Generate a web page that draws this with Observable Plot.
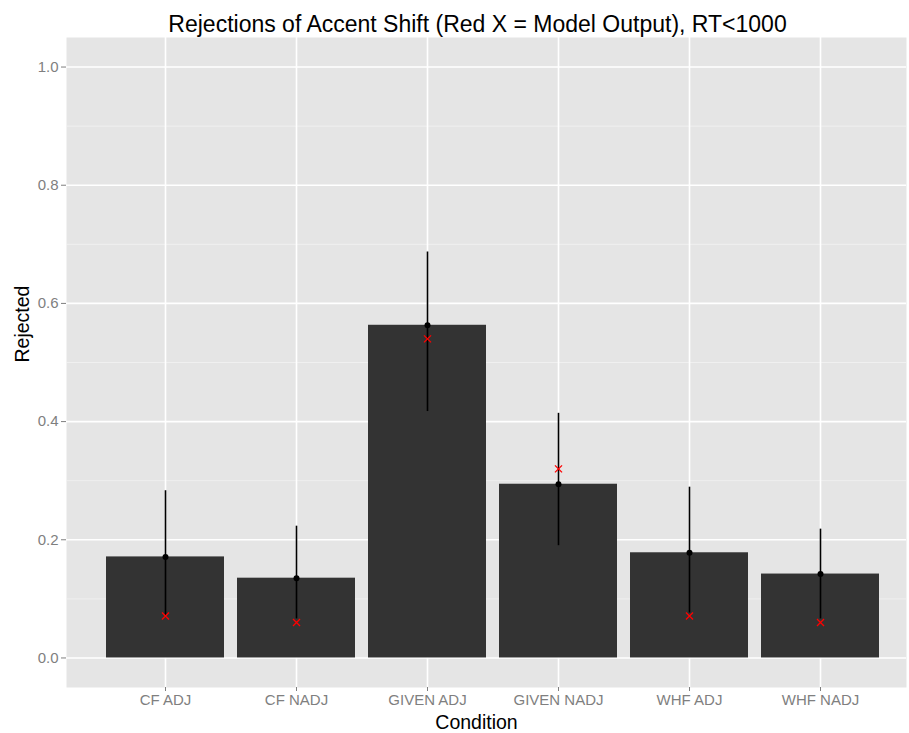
<!DOCTYPE html>
<html>
<head>
<meta charset="utf-8">
<script src="https://cdn.jsdelivr.net/npm/d3@7"></script>
<script src="https://cdn.jsdelivr.net/npm/@observablehq/plot@0.6"></script>
<style>
  html, body { margin: 0; padding: 0; background: #ffffff; }
  #chart svg { display: block; font-family: "Liberation Sans", Arial, Helvetica, sans-serif; }
</style>
</head>
<body>
<div id="chart"></div>
<script>
const conditions = ["CF ADJ", "CF NADJ", "GIVEN ADJ", "GIVEN NADJ", "WHF ADJ", "WHF NADJ"];
const rejected   = [0.171, 0.135, 0.563, 0.294, 0.178, 0.142];
const ciLow      = [0.072, 0.066, 0.417, 0.190, 0.076, 0.066];
const ciHigh     = [0.283, 0.223, 0.687, 0.414, 0.289, 0.218];
const modelOut   = [0.071, 0.060, 0.540, 0.320, 0.071, 0.060];
const yTicks     = [0, 0.2, 0.4, 0.6, 0.8, 1.0];
const yMinor     = [0.1, 0.3, 0.5, 0.7, 0.9];

const titleText = "Rejections of Accent Shift (Red X = Model Output), RT<1000";
const xTitle = "Condition";
const yTitle = "Rejected";

const data = conditions.map((c, i) => ({
  condition: c, rejected: rejected[i], lo: ciLow[i], hi: ciHigh[i], model: modelOut[i]
}));

const chart = Plot.plot({
  width: 909,
  height: 733,
  marginLeft: 66,
  marginRight: 3,
  marginTop: 37,
  marginBottom: 46,
  x: {type: "band", domain: conditions, range: [98.9, 886.1], paddingInner: 0.1, paddingOuter: 0.05, axis: null},
  y: {domain: [-0.05, 1.05], axis: null},
  marks: [
    Plot.frame({fill: "#e5e5e5", stroke: "none"}),
    Plot.ruleY(yMinor, {stroke: "#f2f2f2", strokeWidth: 0.8}),
    Plot.ruleY(yTicks, {stroke: "#ffffff", strokeWidth: 1.6}),
    Plot.ruleX(conditions, {stroke: "#ffffff", strokeWidth: 1.6}),
    Plot.barY(data, {x: "condition", y: "rejected", fill: "#333333"}),
    Plot.ruleX(data, {x: "condition", y1: "lo", y2: "hi", stroke: "#000000", strokeWidth: 1.6}),
    Plot.dot(data, {x: "condition", y: "rejected", r: 3, fill: "#000000"}),
    Plot.dot(data, {x: "condition", y: "model", symbol: "times", r: 3.3, stroke: "#ff0000", strokeWidth: 1.3}),
    Plot.axisY({ticks: yTicks, tickFormat: d3.format(".1f"), tickSize: 5, tickPadding: 3, fontSize: 15, color: "#7f7f7f", label: null}),
    Plot.axisX({tickSize: 4, tickPadding: 3, fontSize: 15, color: "#7f7f7f", label: null}),
    Plot.text([titleText], {frameAnchor: "top", dx: -9, dy: -6, lineAnchor: "bottom", fontSize: 23, fill: "#000000"}),
    Plot.text([xTitle], {frameAnchor: "bottom", dx: -10, dy: 41, lineAnchor: "bottom", fontSize: 19.5, fill: "#000000"}),
    Plot.text([yTitle], {frameAnchor: "left", dx: -44, rotate: -90, fontSize: 19.5, fill: "#000000"})
  ]
});
document.getElementById("chart").appendChild(chart);
</script>
</body>
</html>
